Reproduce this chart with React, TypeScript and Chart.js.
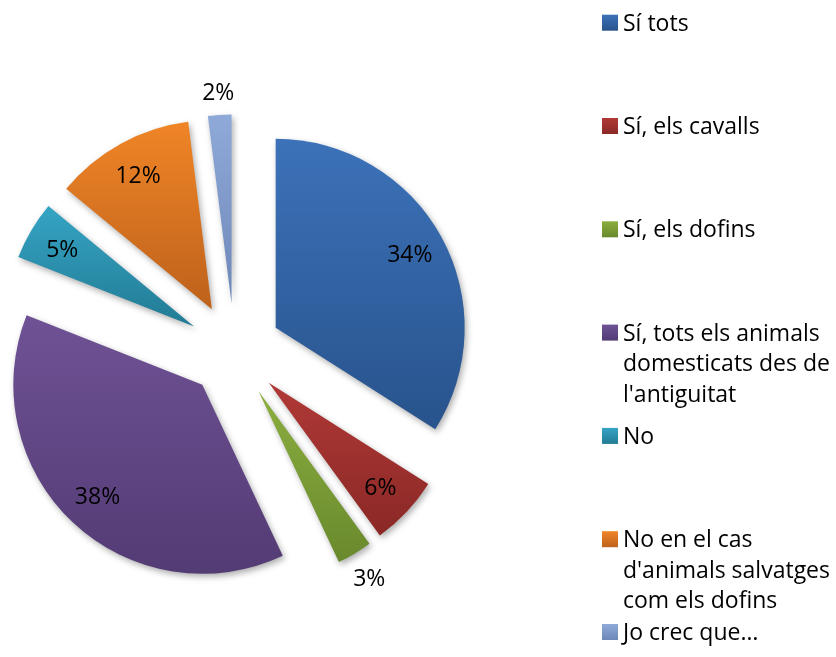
import { useEffect, useRef } from "react";
import { Chart, registerables } from "chart.js";

Chart.register(...registerables);

// ---- data ----
const categories = [
  "Sí tots",
  "Sí, els cavalls",
  "Sí, els dofins",
  "Sí, tots els animals domesticats des de l'antiguitat",
  "No",
  "No en el cas d'animals salvatges com els dofins",
  "Jo crec que…",
];
const percentages = [34, 6, 3, 38, 5, 12, 2];

// ---- styles ----
const topColors = ["#3c72b9", "#b03936", "#8bae3f", "#6f5295", "#35a4c4", "#f08527", "#8faad9"];
const bottomColors = ["#28538c", "#8a2826", "#69892d", "#533b74", "#227b94", "#bd611b", "#6d87b8"];
const FONT = '23px "Open Sans"';
const EXPLODE = 47;

function gradientFor(ctx: CanvasRenderingContext2D, y0: number, y1: number, i: number) {
  const g = ctx.createLinearGradient(0, y0, 0, y1);
  g.addColorStop(0, topColors[i]);
  g.addColorStop(1, bottomColors[i]);
  return g;
}

const explodePlugin = {
  id: "explodeSlices",
  beforeDatasetDraw(chart: any, args: any) {
    const ctx: CanvasRenderingContext2D = chart.ctx;
    const meta = args.meta;
    meta.data.forEach((arc: any, i: number) => {
      const { x, y, startAngle, endAngle, outerRadius } = arc.getProps(
        ["x", "y", "startAngle", "endAngle", "outerRadius"],
        true
      );
      const mid = (startAngle + endAngle) / 2;
      const dx = Math.cos(mid) * EXPLODE;
      const dy = Math.sin(mid) * EXPLODE;
      let minY = y;
      let maxY = y;
      for (let k = 0; k <= 60; k++) {
        const a = startAngle + ((endAngle - startAngle) * k) / 60;
        const py = y + Math.sin(a) * outerRadius;
        minY = Math.min(minY, py);
        maxY = Math.max(maxY, py);
      }
      ctx.save();
      ctx.translate(dx, dy);
      ctx.shadowColor = "rgba(0,0,0,0.32)";
      ctx.shadowBlur = 6;
      ctx.shadowOffsetX = 2;
      ctx.shadowOffsetY = 3;
      const prev = arc.options.backgroundColor;
      arc.options.backgroundColor = gradientFor(ctx, minY, maxY, i);
      arc.draw(ctx, chart.chartArea);
      arc.options.backgroundColor = prev;
      ctx.restore();
    });
    return false;
  },
  afterDatasetsDraw(chart: any) {
    const ctx: CanvasRenderingContext2D = chart.ctx;
    const meta = chart.getDatasetMeta(0);
    const values = chart.data.datasets[0].data as number[];
    ctx.save();
    ctx.font = FONT;
    ctx.fillStyle = "#000";
    ctx.textAlign = "center";
    ctx.textBaseline = "alphabetic";
    meta.data.forEach((arc: any, i: number) => {
      const { x, y, startAngle, endAngle, outerRadius } = arc.getProps(
        ["x", "y", "startAngle", "endAngle", "outerRadius"],
        true
      );
      const mid = (startAngle + endAngle) / 2;
      const cx = Math.cos(mid);
      const cy = Math.sin(mid);
      const vx = x + cx * EXPLODE;
      const vy = y + cy * EXPLODE;
      const text = values[i] + "%";
      const w = ctx.measureText(text).width;
      let dist: number;
      if (values[i] >= 5) {
        dist = outerRadius * 0.81;
      } else {
        const ext = (w / 2) * Math.abs(cx) + 10 * Math.abs(cy);
        dist = outerRadius + 12 + ext;
      }
      const px = vx + cx * dist;
      const py = vy + cy * dist;
      ctx.fillText(text, px, py + 8);
    });
    ctx.restore();
  },
  afterDraw(chart: any) {
    const ctx: CanvasRenderingContext2D = chart.ctx;
    const labels = chart.data.labels as string[];
    const textX = 623;
    const boxX = 602;
    const box = 16;
    const lineH = 30.5;
    const step = 103.3;
    const firstBase = 30.7;
    const lastBase = 640;
    const maxW = 836 - textX - 1;
    ctx.save();
    ctx.font = FONT;
    ctx.fillStyle = "#000";
    ctx.textAlign = "left";
    ctx.textBaseline = "alphabetic";
    labels.forEach((label, i) => {
      const words = label.split(" ");
      const lines: string[] = [];
      let cur = "";
      words.forEach((w) => {
        const test = cur ? cur + " " + w : w;
        if (cur && ctx.measureText(test).width > maxW) {
          lines.push(cur);
          cur = w;
        } else {
          cur = test;
        }
      });
      if (cur) lines.push(cur);
      let base = firstBase + i * step;
      base = Math.min(base, lastBase - (lines.length - 1) * lineH);
      ctx.fillStyle = gradientFor(ctx, base - box, base, i);
      ctx.fillRect(boxX, base - box, box, box);
      ctx.fillStyle = "#000";
      lines.forEach((ln, k) => ctx.fillText(ln, textX, base + k * lineH));
    });
    ctx.restore();
  },
};

export default function App() {
  const ref = useRef<HTMLCanvasElement>(null);
  useEffect(() => {
    if (!ref.current) return;
    const chart = new Chart(ref.current, {
      type: "pie",
      data: {
        labels: categories,
        datasets: [
          {
            data: percentages,
            backgroundColor: topColors,
            borderWidth: 0,
          },
        ],
      },
      options: {
        responsive: false,
        animation: false,
        radius: 189,
        layout: { padding: { left: 35, right: 402, top: 151, bottom: 107 } },
        plugins: {
          legend: { display: false },
          tooltip: { enabled: false },
        },
      } as any,
      plugins: [explodePlugin],
    });
    return () => chart.destroy();
  }, []);
  return (
    <div style={{ position: "absolute", left: 0, top: 0, width: 836, height: 657, background: "#fff" }}>
      <canvas ref={ref} width={836} height={657} style={{ display: "block" }} />
    </div>
  );
}
